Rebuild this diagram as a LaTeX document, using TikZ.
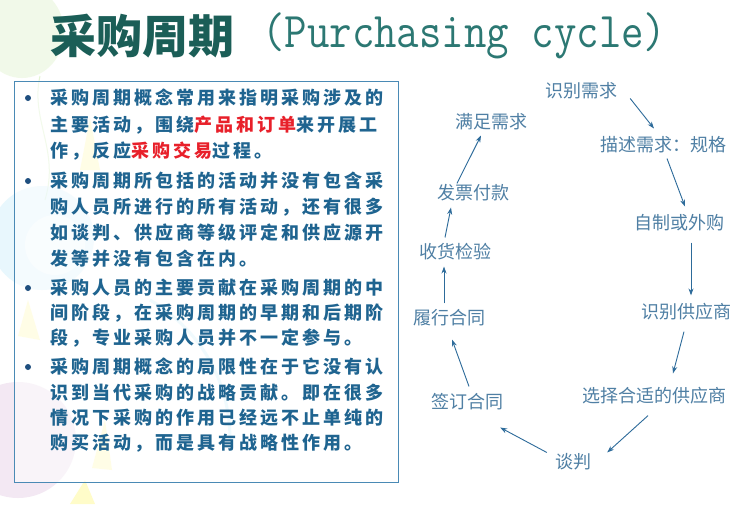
\documentclass[tikz,border=0pt]{standalone}
\usepackage{fontspec}
\setmainfont{Liberation Serif}
\newfontfamily\cjk{Noto Sans CJK SC}
\newfontfamily\cjkbody[LetterSpace=16.7]{Noto Sans CJK SC}
\newfontfamily\monott{Latin Modern Mono}
\usetikzlibrary{arrows.meta}
\definecolor{titlegreen}{HTML}{1B5E57}
\definecolor{titleteal}{HTML}{2C7873}
\definecolor{bodyblue}{HTML}{1F6490}
\definecolor{hired}{HTML}{E8202A}
\definecolor{boxblue}{HTML}{4A8AB5}
\definecolor{cycblue}{HTML}{4F7FA4}
\definecolor{arrowblue}{HTML}{2D6B9A}
\definecolor{dotblue}{HTML}{1F4F7F}
\tikzset{
  ttlcjk/.style={font=\cjk\bfseries\fontsize{46}{50}\selectfont, text=titlegreen, inner sep=0pt, anchor=west},
  ttlen/.style={font=\monott\fontsize{50}{54}\selectfont, text=titleteal, inner sep=0pt, anchor=west},
  bodyline/.style={font=\cjkbody\bfseries\fontsize{18}{20}\selectfont, text=bodyblue, inner sep=0pt, anchor=west},
  bdot/.style={circle, fill=dotblue, inner sep=0pt, minimum size=6pt},
  cyc/.style={font=\cjk\fontsize{18}{20}\selectfont, text=cycblue, inner sep=0pt},
  arr/.style={-{Stealth[length=7pt,width=5pt]}, draw=arrowblue, line width=0.9pt},
}
\begin{document}
\begin{tikzpicture}[x=1pt,y=-1pt]
\useasboundingbox (0,0) rectangle (750,504);
\fill[white] (0,0) rectangle (750,504);
% faint background decorations
\fill[yellow!40!green!25, opacity=0.35] (22,32) ellipse [x radius=42, y radius=46];
\draw[yellow!40!green!35, opacity=0.5, line width=1pt] (40,76) .. controls (30,120) and (60,150) .. (45,200);
\fill[cyan!20, opacity=0.45] (42,238) circle [radius=52];
\fill[white, opacity=0.5] (55,245) circle [radius=30];
\fill[violet!20, opacity=0.45] (18,440) circle [radius=58];
\fill[yellow!60, opacity=0.35] (90,118) -- (100,170) -- (80,170) -- cycle;
\fill[yellow!60, opacity=0.35] (28,300) -- (40,340) -- (18,336) -- cycle;
\fill[yellow!60, opacity=0.35] (105,420) -- (112,470) -- (92,468) -- cycle;
\fill[yellow!60, opacity=0.35] (85,480) -- (95,504) -- (70,504) -- cycle;
\draw[cyan!25, opacity=0.5, line width=3pt] (150,300) .. controls (200,330) and (230,380) .. (230,440);
% title
\node[ttlcjk] (tz) at (50,36) {采购周期};
\node[ttlen] (te) at (262,36) {\scalebox{0.872}[1]{(Purchasing cycle)}};
% text box
\draw[boxblue, line width=0.9pt, fill=white, fill opacity=0.55] (14,81) rectangle (398,482);
% bullets
\node[bdot] (d1) at (28,98) {};
\node[bdot] (d2) at (28,181) {};
\node[bdot] (d3) at (28,288) {};
\node[bdot] (d4) at (28,367) {};
\node[bodyline] (l1) at (50,98) {采购周期概念常用来指明采购涉及的};
\node[bodyline] (l2) at (50,125) {主要活动，围绕\textcolor{hired}{产品和订单}来开展工};
\node[bodyline] (l3) at (50,151) {作，反应\textcolor{hired}{采购交易}过程。};
\node[bodyline] (l4) at (50,181) {采购周期所包括的活动并没有包含采};
\node[bodyline] (l5) at (50,207) {购人员所进行的所有活动，还有很多};
\node[bodyline] (l6) at (50,233) {如谈判、供应商等级评定和供应源开};
\node[bodyline] (l7) at (50,259) {发等并没有包含在内。};
\node[bodyline] (l8) at (50,288) {采购人员的主要贡献在采购周期的中};
\node[bodyline] (l9) at (50,313) {间阶段，在采购周期的早期和后期阶};
\node[bodyline] (l10) at (50,338) {段，专业采购人员并不一定参与。};
\node[bodyline] (l11) at (50,367) {采购周期概念的局限性在于它没有认};
\node[bodyline] (l12) at (50,393) {识到当代采购的战略贡献。即在很多};
\node[bodyline] (l13) at (50,418) {情况下采购的作用已经远不止单纯的};
\node[bodyline] (l14) at (50,443) {购买活动，而是具有战略性作用。};
% cycle
\node[cyc] (n1) at (581,91) {识别需求};
\node[cyc] (n2) at (663,145) {描述需求：规格};
\node[cyc] (n3) at (679,223) {自制或外购};
\node[cyc] (n4) at (686,312) {识别供应商};
\node[cyc] (n5) at (654,396) {选择合适的供应商};
\node[cyc] (n6) at (573,462) {谈判};
\node[cyc] (n7) at (467,402) {签订合同};
\node[cyc] (n8) at (449,318) {履行合同};
\node[cyc] (n9) at (455,252) {收货检验};
\node[cyc] (n10) at (473,193) {发票付款};
\node[cyc] (n11) at (491,122) {满足需求};
\draw[arr] ([xshift=13pt,yshift=1pt]n1.south east) -- ([xshift=-9pt,yshift=8pt]n2.north);
\draw[arr] ([xshift=4pt,yshift=-5pt]n2.south) -- ([xshift=6pt,yshift=8pt]n3.north);
\draw[arr] ([xshift=12pt,yshift=-11pt]n3.south) -- ([xshift=5pt,yshift=8pt]n4.north);
\draw[arr] ([xshift=-2pt,yshift=-11pt]n4.south) -- ([xshift=19pt,yshift=14pt]n5.north);
\draw[arr] ([xshift=-6pt,yshift=-11pt]n5.south) -- ([xshift=16pt,yshift=1pt]n6.north east);
\draw[arr] ([xshift=-8pt,yshift=1pt]n6.north west) -- ([xshift=-3pt,yshift=-17pt]n7.south east);
\draw[arr] ([xshift=2pt,yshift=7pt]n7.north) -- ([xshift=3pt,yshift=-13pt]n8.south);
\draw[arr] ([xshift=-5pt,yshift=6pt]n8.north) -- ([xshift=-11pt,yshift=-6pt]n9.south);
\draw[arr] ([xshift=-10pt,yshift=6pt]n9.north) -- ([xshift=-22pt,yshift=-6pt]n10.south);
\draw[arr] ([xshift=-16pt,yshift=1pt]n10.north) -- ([xshift=-10pt,yshift=-5pt]n11.south);
\end{tikzpicture}
\end{document}
